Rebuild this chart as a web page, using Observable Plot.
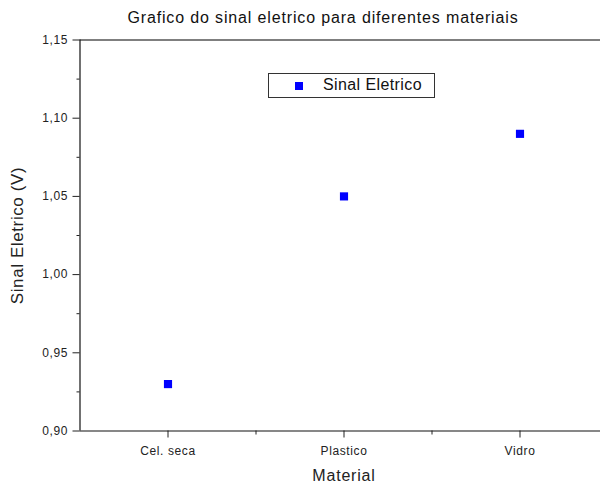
<!DOCTYPE html>
<html>
<head>
<meta charset="utf-8">
<script src="https://cdn.jsdelivr.net/npm/d3@7"></script>
<script src="https://cdn.jsdelivr.net/npm/@observablehq/plot@0.6"></script>
<style>
  html, body { margin: 0; padding: 0; background: #fff; overflow: hidden; }
  #wrap { position: relative; width: 600px; height: 484px; font-family: "Liberation Sans", Arial, sans-serif; }
  #title { position: absolute; left: 0; width: 646px; top: 9px; text-align: center; font-size: 16px; color: #111; letter-spacing: 0.85px; }
  #legend { position: absolute; left: 268px; top: 73px; width: 165px; height: 23px; border: 1.5px solid #333; background: #fff; }
  #legend .sw { position: absolute; left: 26px; top: 8px; width: 8px; height: 8px; background: #0000ff; }
  #legend .lb { position: absolute; left: 54px; top: 2px; font-size: 16px; color: #111; letter-spacing: 0.4px; }
  svg text { letter-spacing: 0.6px; }
</style>
</head>
<body>
<div id="wrap">
  <div id="plot"></div>
  <div id="title"></div>
  <div id="legend"><div class="sw"></div><div class="lb"></div></div>
</div>
<script>
const chartTitle = "Grafico do sinal eletrico para diferentes materiais";
const seriesName = "Sinal Eletrico";
const xTitle = "Material";
const yTitle = "Sinal Eletrico (V)";
const categories = ["Cel. seca", "Plastico", "Vidro"];
const values = [0.93, 1.05, 1.09];
const yTicks = [0.90, 0.95, 1.00, 1.05, 1.10, 1.15];
const yMinorTicks = [0.925, 0.975, 1.025, 1.075, 1.125];
const yDomain = [0.90, 1.15];

const data = categories.map((c, i) => ({pos: i + 1, name: c, value: values[i]}));
const xDomain = [0.5, categories.length + 0.5];
const xTicks = categories.map((c, i) => i + 1);
const xMinorTicks = categories.slice(1).map((c, i) => i + 1.5);
const fmt = v => d3.format(".2f")(v).replace(".", ",");

const chart = Plot.plot({
  width: 600,
  height: 484,
  marginLeft: 79.5,
  marginRight: -7.5,
  marginTop: 39.5,
  marginBottom: 53.5,
  style: {fontFamily: "'Liberation Sans', Arial, sans-serif", fontSize: "12px", color: "#222", overflow: "visible"},
  x: {domain: xDomain},
  y: {domain: yDomain},
  marks: [
    Plot.ruleY([yDomain[1]], {stroke: "#555", strokeWidth: 1.5}),
    Plot.axisY({ticks: yMinorTicks, tickSize: 3, tickFormat: () => "", label: null, stroke: "#222"}),
    Plot.axisY({ticks: yTicks, tickSize: 7, tickPadding: 5, tickFormat: fmt, label: yTitle, labelAnchor: "center", labelArrow: "none", labelOffset: 69, fontSize: 12, stroke: "#222"}),
    Plot.axisX({ticks: xMinorTicks, tickSize: 4, tickFormat: () => "", label: null, stroke: "#222"}),
    Plot.axisX({ticks: xTicks, tickSize: 7, tickPadding: 8, tickFormat: d => categories[d - 1], label: xTitle, labelAnchor: "center", labelArrow: "none", labelOffset: 50, fontSize: 12, stroke: "#222"}),
    Plot.ruleX([xDomain[0]], {stroke: "#111", strokeWidth: 1.2}),
    Plot.ruleY([yDomain[0]], {stroke: "#111", strokeWidth: 1.2}),
    Plot.dot(data, {x: "pos", y: "value", symbol: "square", r: 4.6, fill: "#0000ff", stroke: "none"})
  ]
});
document.getElementById("plot").appendChild(chart);
document.getElementById("title").textContent = chartTitle;
document.querySelector("#legend .lb").textContent = seriesName;

chart.querySelectorAll("g[aria-label='x-axis label'] text").forEach(t => {
  t.style.fontSize = "16px";
  t.style.letterSpacing = "0.8px";
});
chart.querySelectorAll("g[aria-label='y-axis label'] text").forEach(t => {
  t.style.fontSize = "17px";
  t.style.letterSpacing = "0.6px";
});
</script>
</body>
</html>
